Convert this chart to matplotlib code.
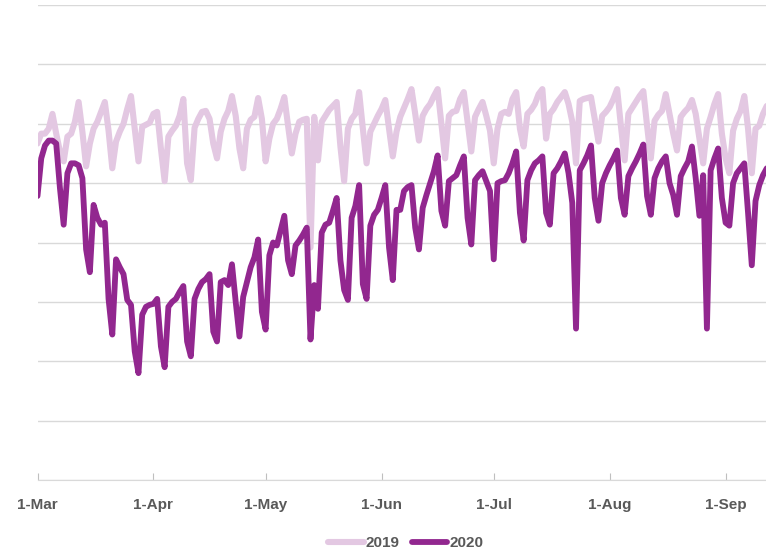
import numpy as np
import pandas as pd
import matplotlib
matplotlib.use("Agg")
import matplotlib.pyplot as plt

# daily values (arbitrary index, no y labels shown)
start = "2020-03-01"
vals_2019 = [
    340, 350, 350, 355, 370, 350, 332, 322, 347, 350, 362, 382, 352, 317,
    340, 355, 362, 372, 382, 353, 315, 342, 352, 360, 375, 388, 355, 322,
    357, 359, 361, 370, 372, 335, 302, 347, 353, 358, 368, 385, 320, 303,
    356, 365, 372, 373, 365, 340, 325, 352, 365, 373, 388, 368, 335, 315,
    355, 364, 367, 386, 365, 322, 345, 360, 365, 375, 387, 358, 330, 350,
    362, 364, 365, 235, 367, 323, 362, 368, 374, 378, 382, 337, 302, 355,
    365, 370, 392, 355, 320, 352, 360, 368, 375, 384, 355, 327, 352, 367,
    376, 385, 395, 370, 343, 368, 375, 380, 388, 395, 360, 325, 368, 372,
    373, 385, 392, 362, 332, 367, 375, 382, 368, 353, 320, 355, 370, 372,
    370, 385, 392, 355, 337, 370, 374, 380, 390, 395, 345, 370, 375, 382,
    387, 392, 380, 362, 320, 383, 385, 386, 387, 365, 342, 368, 372, 377,
    385, 395, 358, 323, 370, 376, 382, 388, 393, 358, 325, 363, 369, 373,
    390, 370, 350, 333, 367, 372, 376, 384, 370, 345, 320, 355, 367, 380,
    390, 350, 325, 310, 353, 365, 373, 388, 355, 310, 355, 358, 370, 378,
]
vals_2020 = [
    287, 325, 338, 343, 343, 340, 295, 258, 310, 320, 320, 318, 305, 233,
    210, 278, 265, 258, 260, 183, 147, 223, 215, 208, 182, 177, 130, 108,
    167, 175, 177, 178, 183, 135, 114, 175, 180, 183, 190, 196, 140, 125,
    183, 193, 200, 203, 208, 150, 140, 200, 202, 197, 218, 180, 145, 185,
    200, 215, 225, 243, 170, 152, 227, 240, 237, 252, 267, 222, 208, 237,
    242, 248, 255, 142, 197, 173, 250, 258, 260, 272, 285, 222, 192, 182,
    265, 277, 298, 198, 183, 257, 268, 273, 285, 298, 235, 202, 273, 273,
    292, 296, 298, 255, 233, 275, 288, 300, 312, 328, 272, 257, 302, 305,
    308, 318, 327, 265, 238, 303, 308, 312, 302, 292, 223, 300, 302, 303,
    310, 320, 332, 270, 242, 303, 313, 320, 323, 327, 270, 258, 310, 315,
    322, 330, 310, 280, 153, 313, 320, 328, 338, 285, 262, 300, 310, 318,
    325, 333, 285, 268, 307, 315, 322, 330, 339, 287, 268, 305, 315, 322,
    327, 300, 288, 268, 307, 315, 322, 337, 305, 267, 308, 153, 313, 325,
    335, 285, 260, 257, 300, 310, 315, 320, 270, 217, 282, 298, 308, 315,
]
tick_dates = ["2020-03-01", "2020-04-01", "2020-05-01", "2020-06-01",
              "2020-07-01", "2020-08-01", "2020-09-01"]
tick_labels = ["1-Mar", "1-Apr", "1-May", "1-Jun", "1-Jul", "1-Aug", "1-Sep"]

c_2019 = "#E3C8E2"
c_2020 = "#92278F"
grey = "#595959"

plt.rcParams["font.family"] = ["Liberation Sans Narrow", "Liberation Sans", "DejaVu Sans"]

days = pd.date_range(start, periods=len(vals_2020), freq="D")

fig = plt.figure(figsize=(7.66, 5.5), dpi=100)
ax = fig.add_axes([37.5 / 766, 70 / 550, 1 - 37.5 / 766, 475 / 550])

ax.plot(days, vals_2019, color=c_2019, lw=4.4, label="2019",
        solid_joinstyle="round", solid_capstyle="round")
ax.plot(days, vals_2020, color=c_2020, lw=4.2, label="2020",
        solid_joinstyle="round", solid_capstyle="round")

ax.set_ylim(0, 480)
ax.set_yticks(np.arange(0, 481, 60))
ax.set_yticklabels([])
ax.tick_params(axis="y", length=0)
ax.grid(axis="y", color="#D9D9D9", lw=1.0)
ax.set_axisbelow(True)

x0 = pd.Timestamp(start)
ax.set_xlim(x0, x0 + pd.Timedelta(days=194.8))
ax.set_xticks(pd.to_datetime(tick_dates))
ax.set_xticklabels(tick_labels, fontsize=11, fontweight="bold", color=grey)
ax.tick_params(axis="x", direction="in", length=5, color="#BFBFBF", pad=13)

for s in ["top", "right", "left"]:
    ax.spines[s].set_visible(False)
ax.spines["bottom"].set_color("#D9D9D9")

leg = fig.legend(loc="center", bbox_to_anchor=(0.53, 0.013), ncol=2,
                 frameon=False, handlelength=2.3, columnspacing=0.8,
                 handletextpad=0.15, prop={"weight": "bold", "size": 11})
for t in leg.get_texts():
    t.set_color(grey)

fig.savefig("out.png", dpi=100)
